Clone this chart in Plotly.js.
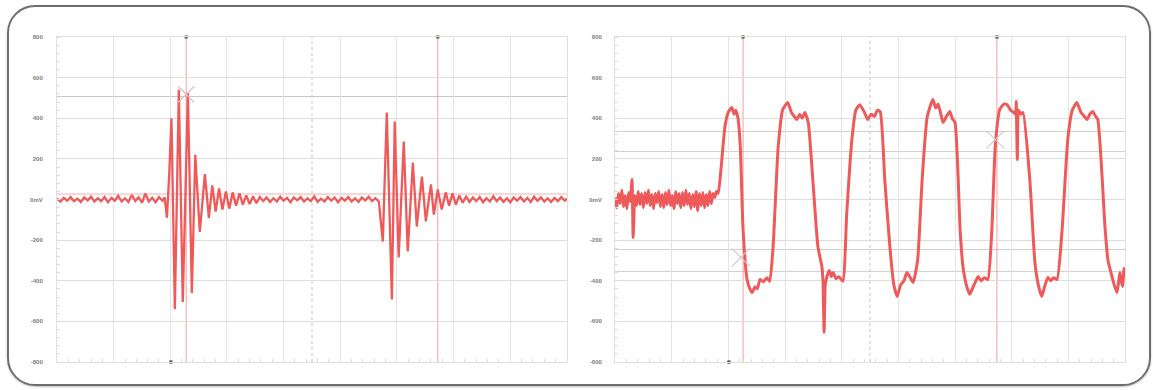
<!DOCTYPE html>
<html>
<head>
<meta charset="utf-8">
<script src="https://cdn.plot.ly/plotly-3.0.1.min.js"></script>
<style>
  html, body { margin: 0; padding: 0; background: #ffffff; }
  #wrap { position: relative; width: 1153px; height: 390px; overflow: hidden; }
  #frame { position: absolute; left: 7px; top: 5px; width: 1140px; height: 377px;
           border: 2.5px solid #6e6e6e; border-radius: 28px; box-shadow: 0 1px 2px rgba(0,0,0,0.25); }
  #chart { position: absolute; left: 0; top: 0; width: 1153px; height: 390px; }
</style>
</head>
<body>
<div id="wrap">
  <div id="frame"></div>
  <div id="chart"></div>
</div>
<script>
// ---- Data (time in 1/100 division, amplitude in mV) ----
const leftT = [0,6,12,18,24,30,36,42,48,54,60,66,72,78,84,90,96,102,108,114,120,126,132,138,144,150,156,162,168,174,180,186,
  190,194,198,202,208,215,222,231,238,244,252,261,268,274,280,286,292,298,304,310,316,322,328,334,340,346,352,358,
  364,370,376,382,388,394,400,406,412,418,424,430,436,442,448,454,460,466,472,478,484,490,496,502,508,514,520,526,532,538,544,550,556,562,568,
  575,582,591,596,603,612,619,628,635,644,651,660,665,672,679,686,692,698,704,710,716,
  722,728,734,740,746,752,758,764,770,776,782,788,794,800,806,812,818,824,830,836,842,848,854,860,866,872,878,884,890,896,900];
const leftV = [5,-10,8,-6,12,-8,4,-12,10,-4,14,-10,6,-8,12,-14,8,-6,18,-10,6,-12,22,-8,10,-16,30,-10,8,-14,12,-6,
  10,-90,120,400,-540,540,-505,525,-460,220,-160,125,-90,70,-60,55,-50,40,-45,35,-30,30,-25,20,-22,15,-18,12,
  -8,10,-12,6,-10,14,-6,8,-14,10,-4,12,-10,6,-8,16,-12,4,-10,12,-6,10,-14,8,-6,12,-10,6,-12,10,-4,14,-8,6,-10,
  -207,428,-492,384,-285,285,-256,182,-133,113,-108,74,-74,49,-49,35,-30,30,-25,20,-16,
  14,-12,10,-8,12,-14,6,-10,16,-8,10,-12,6,-14,10,-6,12,-10,8,-12,14,-6,10,-10,6,-12,8,-8,12,-6,4];

const rightT = [0,3,6,9,12,15,18,21,24,27,30,32,35,38,41,44,47,50,53,56,59,62,65,68,71,74,77,80,83,86,89,92,95,98,
  101,104,107,110,113,116,119,122,125,128,131,134,137,140,143,146,149,152,155,158,161,164,167,170,173,176,179,
  182,187,194,200,206,210,213,217,221,226,233,238,242,247,251,256,262,268,273,279,
  288,296,305,311,316,321,326,330,335,341,349,358,365,367,369,371,374,378,382,385,390,395,402,
  409,418,425,432,440,446,452,458,463,468,476,485,492,498,504,510,515,520,526,534,
  542,551,561,566,570,575,579,585,591,595,600,609,614,620,626,632,637,641,646,652,658,
  665,671,679,686,692,698,703,707,708,710,712,716,720,732,741,747,753,758,764,769,774,780,
  789,799,807,815,822,828,833,838,843,848,852,865,870,877,882,886,889,891,894,896,898,900];
const rightV = [10,-40,30,-20,45,-35,20,-45,35,-10,98,-187,20,-30,40,-25,30,-40,35,-20,45,-30,25,-45,30,-15,40,-35,25,-40,35,-25,45,-30,
  20,-45,40,-20,30,-40,35,-30,45,-25,30,-45,25,-35,40,-55,30,-30,35,-40,25,-30,40,-20,30,10,40,
  30,150,359,430,453,420,440,400,261,-148,-394,-440,-458,-430,-440,-394,-405,-385,-403,-231,
  261,443,477,430,410,394,420,400,428,379,98,-231,-330,-400,-654,-420,-379,-350,-380,-359,-390,-380,-403,
  -64,295,440,467,430,394,420,410,440,433,98,-231,-420,-477,-420,-400,-359,-380,-408,-300,
  98,408,492,450,470,420,379,410,433,400,379,-148,-330,-420,-467,-430,-400,-379,-400,-385,-394,
  -148,261,443,470,467,440,430,420,482,197,440,420,428,98,-310,-420,-477,-430,-384,-400,-385,-394,
  -148,295,440,477,430,410,394,420,433,410,394,-148,-300,-379,-430,-458,-400,-359,-410,-428,-340,-380];

const yTickVals = [-800,-600,-400,-200,0,200,400,600,800];
const yTickText = ['-800','-600','-400','-200','0mV','200','400','600','800'];

// cursors
const leftCursorT = [228, 672];
const rightCursorT = [226, 674];
const bottomMarkT = [201];
const leftHLevels = [507, 27];
const leftHColors = ['#c8c8c8', '#f2b0b0'];
const rightHLevels = [335, 236, -246, -354];
const leftCrossT = [228], leftCrossV = [517];
const rightCrossT = [222, 671], rightCrossV = [-285, 295];

const lineColor = '#ee5a5a';

const traces = [
  {x: leftT, y: leftV, xaxis: 'x', yaxis: 'y', mode: 'lines',
   line: {color: lineColor, width: 2.3}, hoverinfo: 'skip'},
  {x: rightT, y: rightV, xaxis: 'x2', yaxis: 'y2', mode: 'lines',
   line: {color: lineColor, width: 3, shape: 'spline', smoothing: 0.5}, hoverinfo: 'skip'},
  // cross cursor glyphs
  {x: leftCrossT, y: leftCrossV, xaxis: 'x', yaxis: 'y', mode: 'markers',
   marker: {symbol: 'x-thin-open', size: 16, color: '#e8b8c0', line: {width: 1.2, color: '#e8b8c0'}}, hoverinfo: 'skip'},
  {x: rightCrossT, y: rightCrossV, xaxis: 'x2', yaxis: 'y2', mode: 'markers',
   marker: {symbol: 'x-thin-open', size: 18, color: '#d8c8d0', line: {width: 1.2, color: '#d8c8d0'}}, hoverinfo: 'skip'},
  // cursor end markers
  {x: leftCursorT, y: leftCursorT.map(() => 800), xaxis: 'x', yaxis: 'y', mode: 'markers', cliponaxis: false,
   marker: {size: 4, color: '#777', line: {width: 0}}, hoverinfo: 'skip'},
  {x: rightCursorT, y: rightCursorT.map(() => 800), xaxis: 'x2', yaxis: 'y2', mode: 'markers', cliponaxis: false,
   marker: {size: 4, color: '#777', line: {width: 0}}, hoverinfo: 'skip'},
  {x: bottomMarkT, y: bottomMarkT.map(() => -800), xaxis: 'x', yaxis: 'y', mode: 'markers', cliponaxis: false,
   marker: {size: 4, color: '#666', line: {width: 0}}, hoverinfo: 'skip'},
  {x: bottomMarkT, y: bottomMarkT.map(() => -800), xaxis: 'x2', yaxis: 'y2', mode: 'markers', cliponaxis: false,
   marker: {size: 4, color: '#666', line: {width: 0}}, hoverinfo: 'skip'}
];

const shapes = [];
function addPanelShapes(xr, yr, cursors, hLevels, hColors) {
  shapes.push({type: 'line', xref: xr, yref: yr, x0: 450, x1: 450, y0: -800, y1: 800,
               line: {color: '#c4c4c4', width: 1, dash: 'dot'}, layer: 'below'});
  shapes.push({type: 'line', xref: xr, yref: yr, x0: 0, x1: 900, y0: 0, y1: 0,
               line: {color: '#c4c4c4', width: 1, dash: 'dot'}, layer: 'below'});
  hLevels.forEach((v, i) => shapes.push({type: 'line', xref: xr, yref: yr, x0: 0, x1: 900, y0: v, y1: v,
               line: {color: hColors[i], width: 1}, layer: 'below'}));
  cursors.forEach(t => shapes.push({type: 'line', xref: xr, yref: yr, x0: t, x1: t, y0: -800, y1: 800,
               line: {color: 'rgba(235,110,110,0.65)', width: 1}, layer: 'below'}));
}
addPanelShapes('x', 'y', leftCursorT, leftHLevels, leftHColors);
addPanelShapes('x2', 'y2', rightCursorT, rightHLevels, rightHLevels.map(() => '#cfcfcf'));

const xCommon = {range: [0, 900], dtick: 100, tick0: 0, showticklabels: false, ticks: '',
  showgrid: true, gridcolor: '#e4e4e4', gridwidth: 1, zeroline: false,
  showline: true, linecolor: '#e0e0e0', mirror: true, fixedrange: true,
  minor: {dtick: 20, ticks: 'inside', ticklen: 3, tickcolor: '#dcdcdc', showgrid: false}};
const yCommon = {range: [-800, 800], tickvals: yTickVals, ticktext: yTickText,
  tickfont: {family: 'Liberation Sans', size: 6, color: '#808080', weight: 'bold'}, ticks: '',
  showgrid: true, gridcolor: '#dedede', gridwidth: 1, zeroline: false,
  showline: true, linecolor: '#e0e0e0', mirror: true, fixedrange: true,
  minor: {dtick: 40, ticks: 'inside', ticklen: 3, tickcolor: '#dcdcdc', showgrid: false}};

const layout = {
  width: 1153, height: 390,
  margin: {l: 57, r: 28, t: 37, b: 28, pad: 0},
  paper_bgcolor: 'rgba(0,0,0,0)', plot_bgcolor: 'rgba(0,0,0,0)',
  showlegend: false,
  xaxis: Object.assign({}, xCommon, {domain: [0, 0.4775], anchor: 'y'}),
  xaxis2: Object.assign({}, xCommon, {domain: [0.5225, 1], anchor: 'y2'}),
  yaxis: Object.assign({}, yCommon, {anchor: 'x', ticklabelstandoff: 12}),
  yaxis2: Object.assign({}, yCommon, {anchor: 'x2', ticklabelstandoff: 11}),
  shapes: shapes
};

Plotly.newPlot('chart', traces, layout, {displayModeBar: false, staticPlot: true});
</script>
</body>
</html>
